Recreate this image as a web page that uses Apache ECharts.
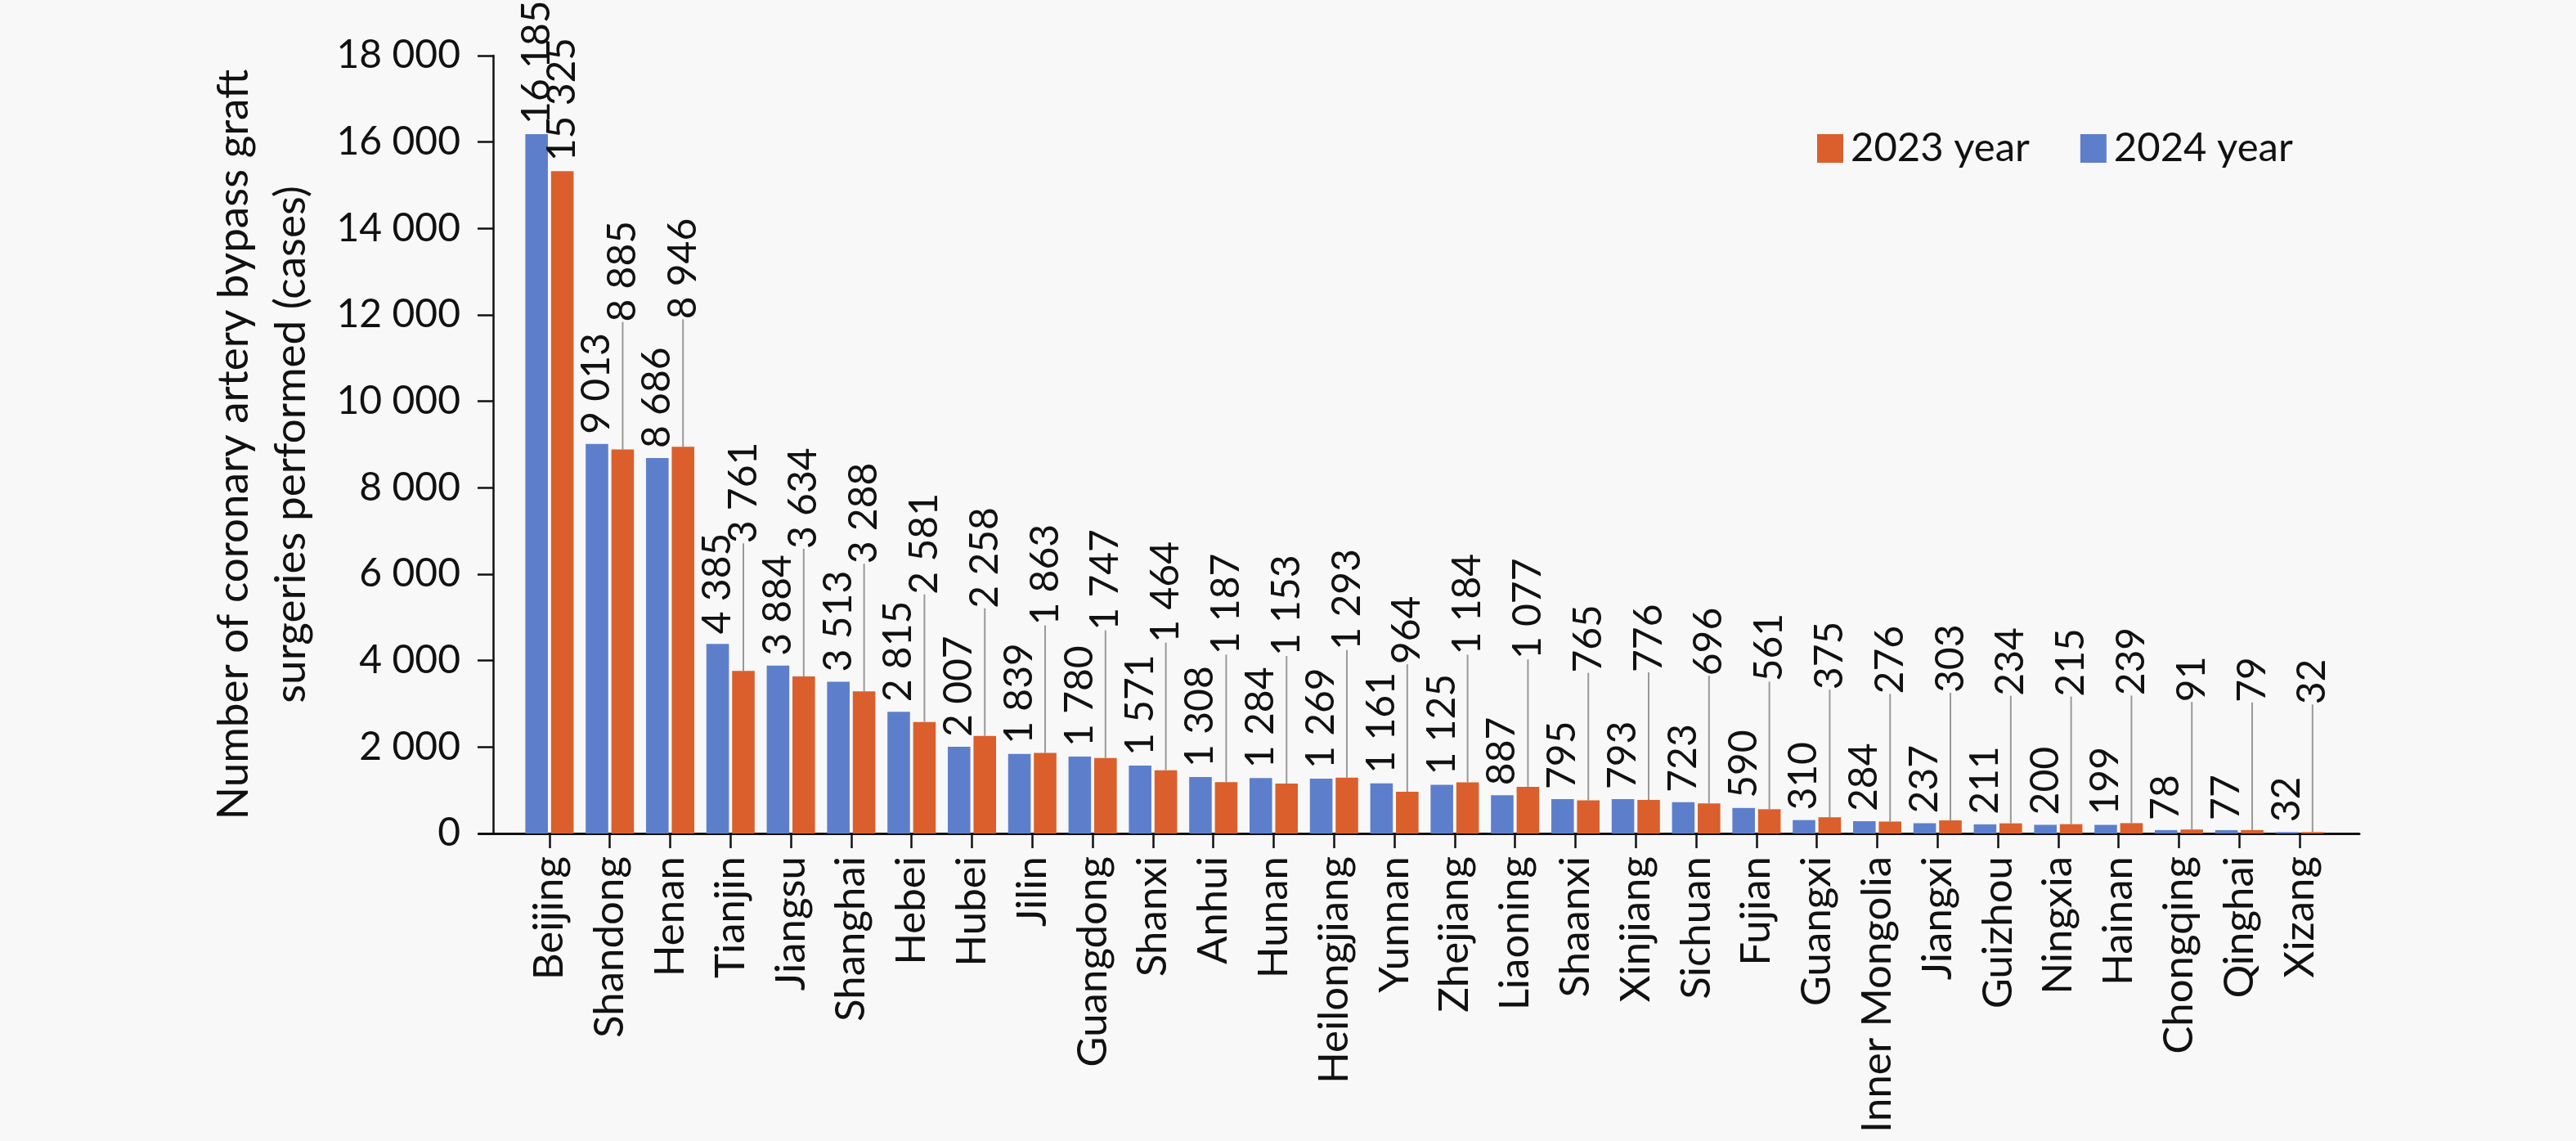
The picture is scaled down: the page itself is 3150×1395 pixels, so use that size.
<!DOCTYPE html>
<html>
<head>
<meta charset="utf-8">
<script src="https://cdn.jsdelivr.net/npm/echarts@6/dist/echarts.min.js"></script>
<style>
  html, body { margin: 0; padding: 0; background: #f8f8f8; }
  #main { width: 3150px; height: 1395px; }
</style>
</head>
<body>
<div id="main"></div>
<script>
// provinces, sorted as in the figure
var provinces = ['Beijing', 'Shandong', 'Henan', 'Tianjin', 'Jiangsu', 'Shanghai', 'Hebei', 'Hubei',
  'Jilin', 'Guangdong', 'Shanxi', 'Anhui', 'Hunan', 'Heilongjiang', 'Yunnan', 'Zhejiang', 'Liaoning',
  'Shaanxi', 'Xinjiang', 'Sichuan', 'Fujian', 'Guangxi', 'Inner Mongolia', 'Jiangxi', 'Guizhou',
  'Ningxia', 'Hainan', 'Chongqing', 'Qinghai', 'Xizang'];
var cases2024 = [16185, 9013, 8686, 4385, 3884, 3513, 2815, 2007, 1839, 1780, 1571, 1308, 1284, 1269,
  1161, 1125, 887, 795, 793, 723, 590, 310, 284, 237, 211, 200, 199, 78, 77, 32];
var cases2023 = [15325, 8885, 8946, 3761, 3634, 3288, 2581, 2258, 1863, 1747, 1464, 1187, 1153, 1293,
  964, 1184, 1077, 765, 776, 696, 561, 375, 276, 303, 234, 215, 239, 91, 79, 32];
var legendNames = ['2023 year', '2024 year'];
var yTitle = 'Number of coronary artery bypass graft\nsurgeries performed (cases)';

function spaced(v) {
  return String(v).replace(/\B(?=(\d{3})+(?!\d))/g, ' ');
}

var chart = echarts.init(document.getElementById('main'));

var labelFont = {fontFamily: 'Lato', fontSize: 48, color: '#111'};

// 2023 labels sit high above the bars with a leader line, except the tallest one
var data2023 = cases2023.map(function (v, i) {
  if (i === 0) return {value: v, label: {distance: 12, padding: 0}, labelLine: {show: false}};
  return v;
});

var option = {
  backgroundColor: '#f8f8f8',
  animation: false,
  legend: {
    data: legendNames,
    left: 2217,
    top: 152,
    icon: 'rect',
    itemWidth: 32,
    itemHeight: 35,
    itemGap: 62,
    textStyle: {fontFamily: 'Lato', fontSize: 49, color: '#111', padding: [0, 0, 0, 4]}
  },
  grid: [
    {left: 635, right: 301, top: 68, bottom: 376},
    {left: 586, right: 265, top: 68, bottom: 376}
  ],
  xAxis: [
    {
      type: 'category',
      data: provinces,
      gridIndex: 0,
      axisLine: {show: false},
      axisTick: {show: true, alignWithLabel: true, length: 18, lineStyle: {color: '#111', width: 2.5}},
      axisLabel: {interval: 0, rotate: 90, margin: 28, fontFamily: 'Lato', fontSize: 51, color: '#111'}
    },
    {
      // plain baseline that runs a little past the first and last category, as in the figure
      type: 'value',
      gridIndex: 1,
      position: 'bottom',
      min: 0, max: 1,
      axisLine: {show: true, onZero: false, lineStyle: {color: '#111', width: 3}},
      axisTick: {show: false},
      axisLabel: {show: false},
      splitLine: {show: false}
    }
  ],
  yAxis: [
    {
      type: 'value',
      gridIndex: 0,
      min: 0,
      max: 18000,
      interval: 2000,
      offset: 32,
      name: yTitle,
      nameLocation: 'middle',
      nameGap: 212,
      nameTextStyle: {fontFamily: 'Lato', fontSize: 53, lineHeight: 70, color: '#111'},
      axisLine: {show: true, lineStyle: {color: '#111', width: 2.5}},
      axisTick: {show: true, length: 19, lineStyle: {color: '#111', width: 2.5}},
      axisLabel: {margin: 40, fontFamily: 'Lato', fontSize: 48, color: '#111', formatter: spaced},
      splitLine: {show: false}
    },
    {type: 'value', gridIndex: 1, show: false, min: 0, max: 1}
  ],
  series: [
    {
      name: '2024 year',
      type: 'bar',
      data: cases2024,
      itemStyle: {color: '#5d7fcb'},
      barGap: '14%',
      barCategoryGap: '20%',
      label: Object.assign({
        show: true, position: 'top', distance: 12, rotate: 90, align: 'left', verticalAlign: 'middle',
        formatter: function (p) { return spaced(p.value); }
      }, labelFont)
    },
    {
      name: '2023 year',
      type: 'bar',
      data: data2023,
      itemStyle: {color: '#da5f2d'},
      barGap: '14%',
      barCategoryGap: '20%',
      label: Object.assign({
        show: true, position: 'top', distance: 147, rotate: 90, align: 'left', verticalAlign: 'middle',
        padding: [0, 0, 0, 9],
        formatter: function (p) { return spaced(p.value); }
      }, labelFont),
      labelLine: {show: true, length2: 0, lineStyle: {color: '#999', width: 2}}
    }
  ]
};

chart.setOption(option);
</script>
</body>
</html>
